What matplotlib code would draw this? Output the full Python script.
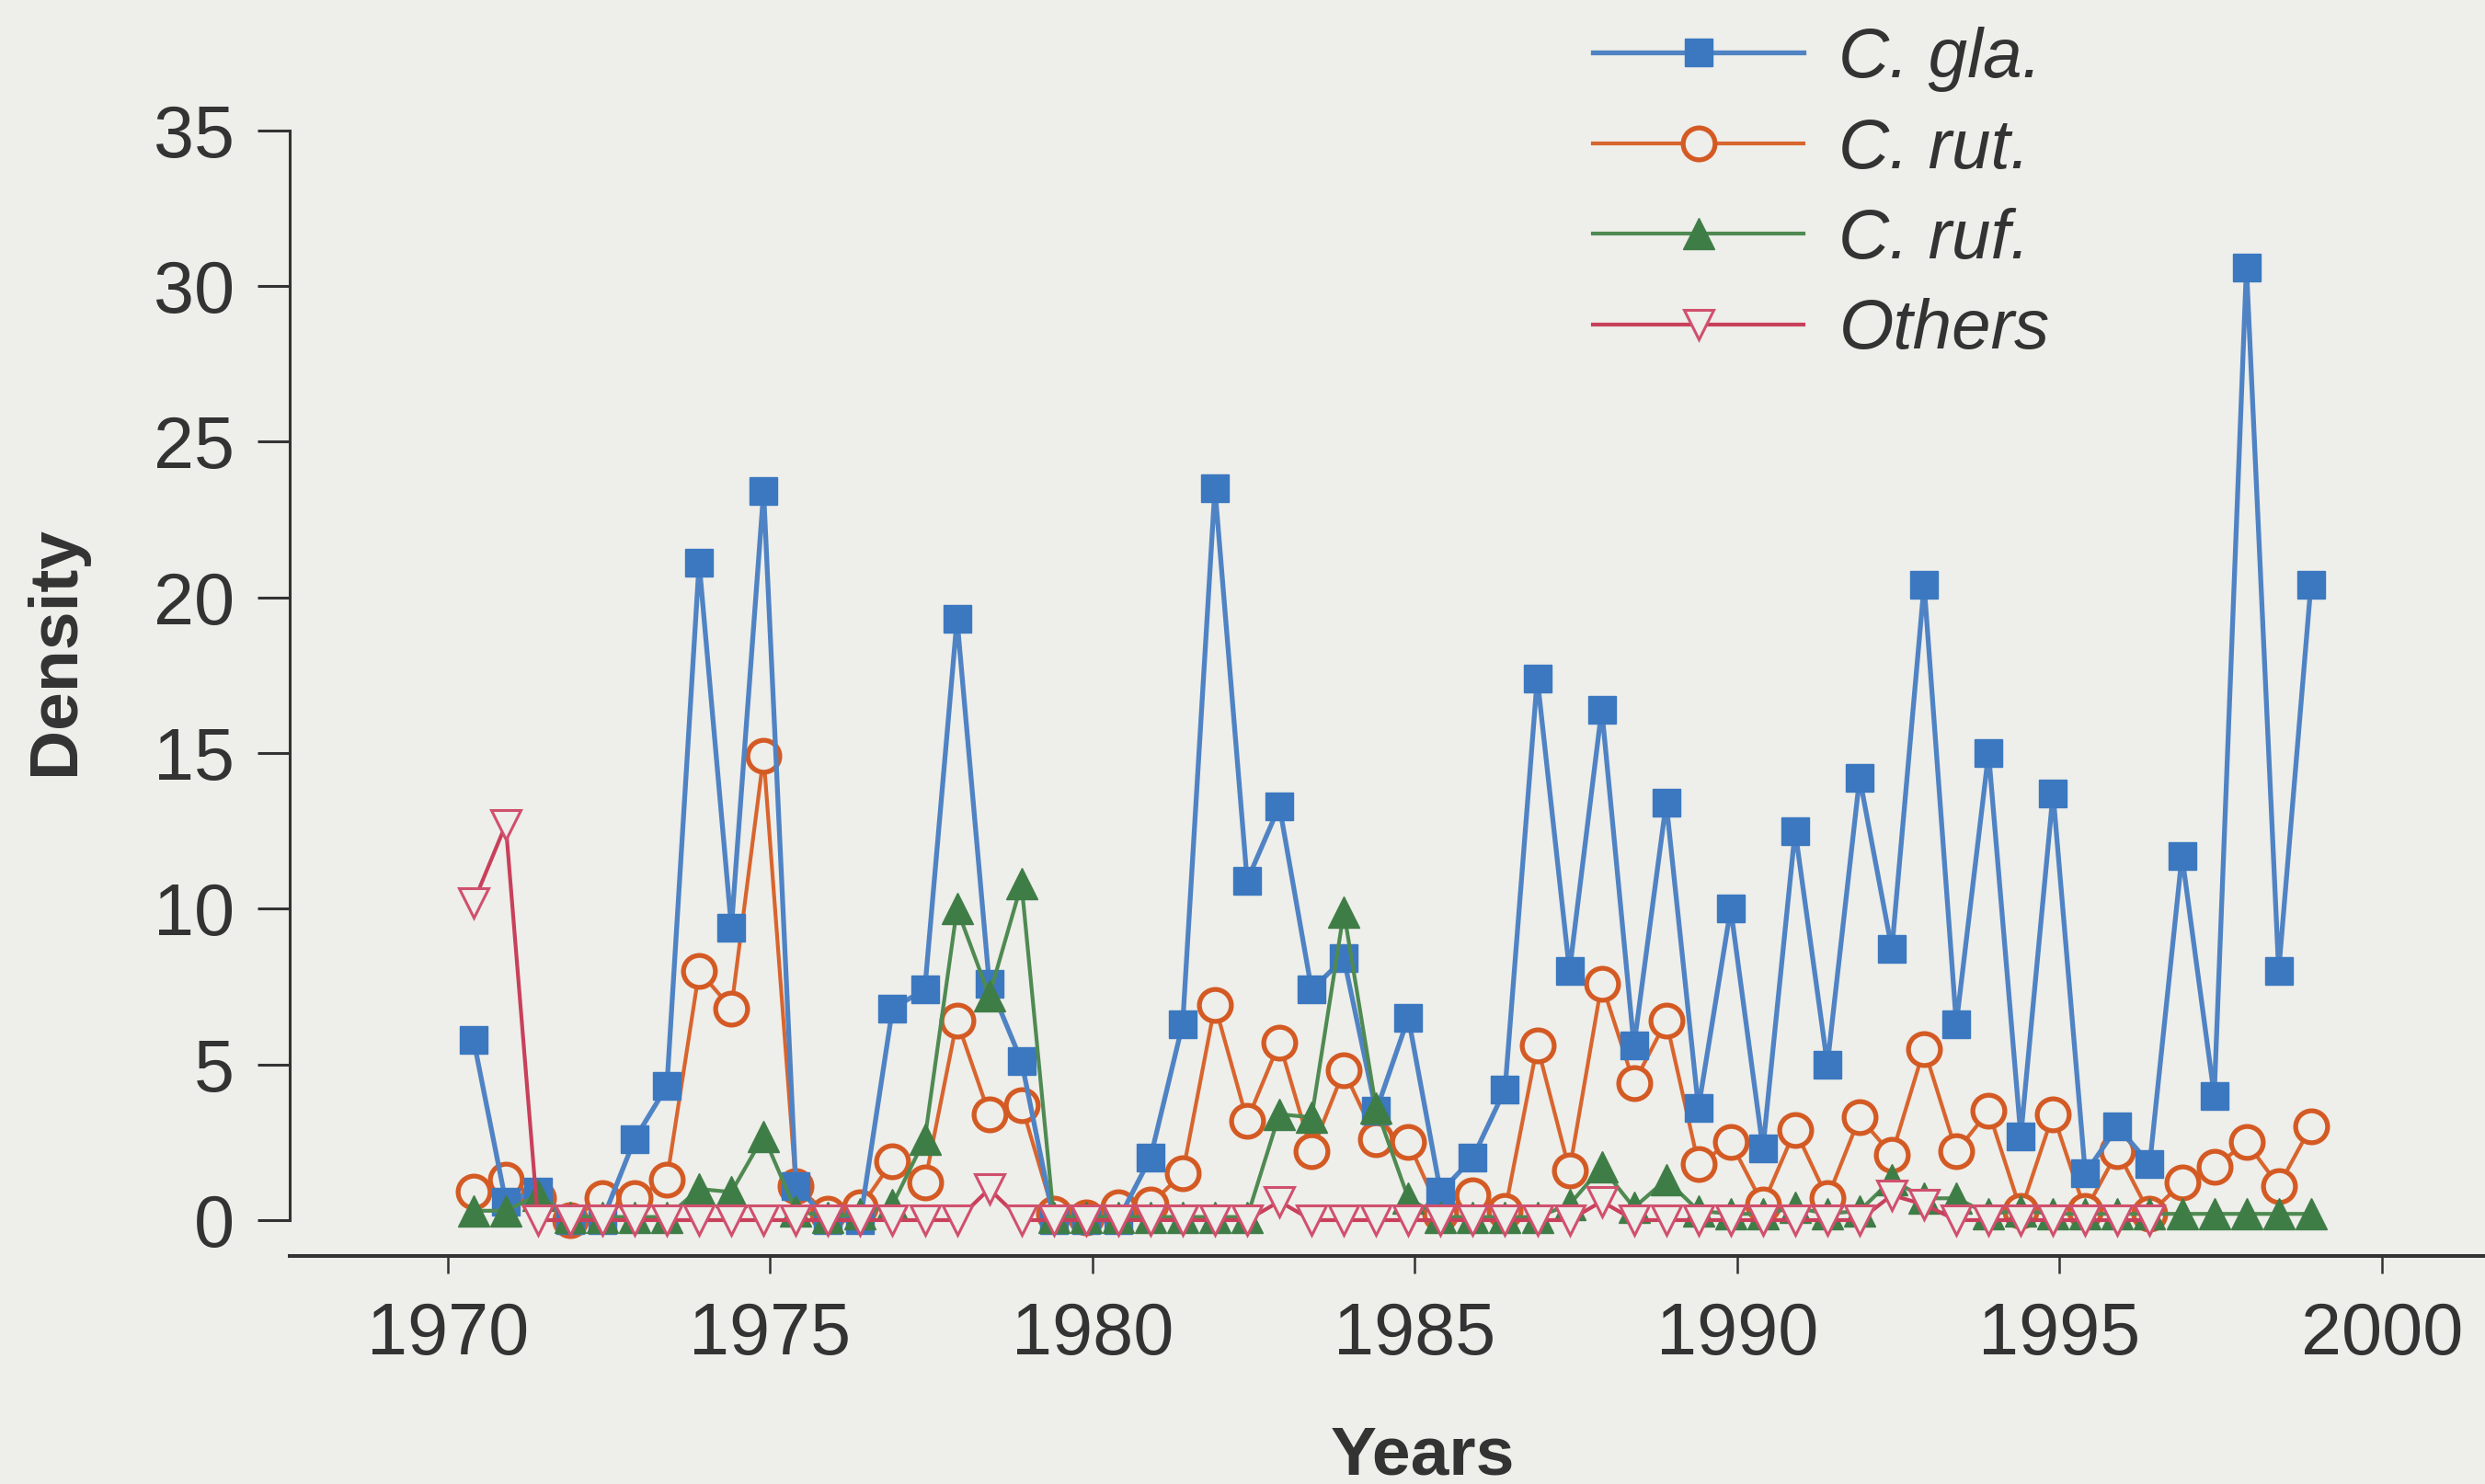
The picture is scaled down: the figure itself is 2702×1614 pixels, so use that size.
import numpy as np
import matplotlib
matplotlib.use("Agg")
import matplotlib.pyplot as plt

plt.rcParams['font.family'] = ['Liberation Sans', 'DejaVu Sans']

# sampling times: two surveys per year
years = np.arange(1970.4, 1999.0, 0.5)

c_gla = [5.8, 0.6, 0.9, 0.0, 0.0, 2.6, 4.3, 21.1, 9.4, 23.4,
         1.1, 0.0, 0.0, 6.8, 7.4, 19.3, 7.6, 5.1, 0.0, 0.0,
         0.0, 2.0, 6.3, 23.5, 10.9, 13.3, 7.4, 8.4, 3.5, 6.5,
         0.9, 2.0, 4.2, 17.4, 8.0, 16.4, 5.6, 13.4, 3.6, 10.0,
         2.3, 12.5, 5.0, 14.2, 8.7, 20.4, 6.3, 15.0, 2.7, 13.7,
         1.5, 3.0, 1.8, 11.7, 4.0, 30.6, 8.0, 20.4]
c_rut = [0.9, 1.3, 0.7, 0.0, 0.7, 0.7, 1.3, 8.0, 6.8, 14.9,
         1.1, 0.2, 0.4, 1.9, 1.2, 6.4, 3.4, 3.7, 0.2, 0.1,
         0.4, 0.5, 1.5, 6.9, 3.2, 5.7, 2.2, 4.8, 2.6, 2.5,
         0.2, 0.8, 0.3, 5.6, 1.6, 7.6, 4.4, 6.4, 1.8, 2.5,
         0.5, 2.9, 0.7, 3.3, 2.1, 5.5, 2.2, 3.5, 0.3, 3.4,
         0.3, 2.2, 0.2, 1.2, 1.7, 2.5, 1.1, 3.0]
c_ruf = [0.3, 0.3, 0.8, 0.1, 0.1, 0.1, 0.1, 1.0, 0.9, 2.7,
         0.3, 0.1, 0.2, 0.5, 2.6, 10.0, 7.2, 10.8, 0.1, 0.1,
         0.1, 0.1, 0.1, 0.1, 0.1, 3.4, 3.3, 9.9, 3.6, 0.7,
         0.1, 0.1, 0.1, 0.1, 0.5, 1.7, 0.4, 1.3, 0.3, 0.2,
         0.2, 0.4, 0.2, 0.3, 1.3, 0.7, 0.7, 0.2, 0.3, 0.2,
         0.2, 0.2, 0.2, 0.2, 0.2, 0.2, 0.2, 0.2]
others = [10.2, 12.7, 0.0, 0.0, 0.0, 0.0, 0.0, 0.0, 0.0, 0.0,
          0.0, 0.0, 0.0, 0.0, 0.0, 0.0, 1.0, 0.0, 0.0, 0.0,
          0.0, 0.0, 0.0, 0.0, 0.0, 0.6, 0.0, 0.0, 0.0, 0.0,
          0.0, 0.0, 0.0, 0.0, 0.0, 0.6, 0.0, 0.0, 0.0, 0.0,
          0.0, 0.0, 0.0, 0.0, 0.8, 0.5, 0.0, 0.0, 0.0, 0.0,
          0.0, 0.0, 0.0, np.nan, np.nan, np.nan, np.nan, np.nan]

bg = '#eeeeea'
ink = '#333333'

fig = plt.figure(figsize=(27.02, 16.14), dpi=100, facecolor=bg)
ax = fig.add_axes([0.1166, 0.1537, 0.8834, 0.7586])
ax.set_facecolor(bg)

ax.plot(years, c_rut, color='#d8652e', lw=3.0, marker='o', ms=25,
        mfc=bg, mec='#d45a24', mew=3.8, label='C. rut.', zorder=2, clip_on=False)
ax.plot(years, c_gla, color='#4f83c4', lw=3.8, marker='s', ms=21,
        mfc='#3b78c0', mec='#3b78c0', label='C. gla.', zorder=3, clip_on=False)
ax.plot(years, c_ruf, color='#4f8a52', lw=3.0, marker='^', ms=25,
        mfc='#3f7d47', mec='#3f7d47', label='C. ruf.', zorder=4, clip_on=False)
ax.plot(years, others, color='#c8405a', lw=3.0, marker='v', ms=23,
        mfc=bg, mec='#d0506e', mew=2.2, label='Others', zorder=5, clip_on=False)

ax.set_xlim(1967.55, 2001.6)
ax.set_ylim(-1.15, 35)
ax.set_xticks([1970, 1975, 1980, 1985, 1990, 1995, 2000])
ax.set_yticks([0, 5, 10, 15, 20, 25, 30, 35])

for s in ['top', 'right']:
    ax.spines[s].set_visible(False)
ax.spines['left'].set_bounds(0, 35)
ax.spines['left'].set_linewidth(2.2)
ax.spines['bottom'].set_linewidth(2.9)
ax.spines['left'].set_color(ink)
ax.spines['bottom'].set_color(ink)

ax.tick_params(axis='x', direction='out', length=14, width=1.8, pad=21,
               labelsize=57, colors=ink)
ax.tick_params(axis='y', direction='out', length=25, width=2.2, pad=18,
               labelsize=57, colors=ink)

ax.set_xlabel('Years', fontsize=54, fontweight='bold', color=ink, va='top')
ax.set_ylabel('Density', fontsize=54, fontweight='bold', color=ink)
ax.xaxis.set_label_coords(0.516, -0.150)
ax.yaxis.set_label_coords(-0.092, 0.538)

handles, labels = ax.get_legend_handles_labels()
order = [1, 0, 2, 3]
fig.legend([handles[i] for i in order], [labels[i] for i in order],
           loc='upper left', bbox_to_anchor=(1732 / 2702, 1 - 29 / 1614),
           frameon=False, borderpad=0, borderaxespad=0, handlelength=3.0,
           handletextpad=0.5, labelspacing=0.36,
           prop={'size': 55, 'style': 'italic'}, labelcolor=ink)

fig.savefig('out.png', dpi=100, facecolor=bg)
